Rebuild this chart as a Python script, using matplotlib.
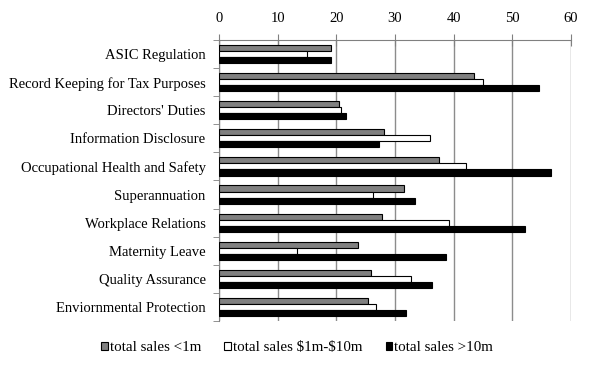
import numpy as np
import matplotlib
matplotlib.use('agg')
import matplotlib.pyplot as plt


CATEGORIES = ['ASIC Regulation', 'Record Keeping for Tax Purposes',
              "Directors' Duties", 'Information Disclosure',
              'Occupational Health and Safety', 'Superannuation',
              'Workplace Relations', 'Maternity Leave', 'Quality Assurance',
              'Enviornmental Protection']

SALES_SMALL = [19.0, 43.5, 20.4, 28.1, 37.6, 31.6, 27.8, 23.6, 25.9, 25.4]
SALES_MID = [15.0, 45.0, 20.8, 35.9, 42.2, 26.3, 39.3, 13.3, 32.8, 26.8]
SALES_LARGE = [19.0, 54.6, 21.7, 27.2, 56.6, 33.4, 52.2, 38.8, 36.4, 31.8]

SERIES_LABELS = ['total sales <1m', r'total sales \$1m-\$10m',
                 'total sales >10m']
TICKS = [0, 10, 20, 30, 40, 50, 60]


def draw():
    plt.rcParams['font.family'] = ['Liberation Serif', 'DejaVu Serif']
    plt.rcParams['font.size'] = 10.5

    fig = plt.figure(figsize=(5.9, 3.65), dpi=100)
    ax = fig.add_axes([0.372, 0.121, 0.595, 0.769])

    n = len(CATEGORIES)
    y = np.arange(n)
    h = 0.215
    colors = ['#808080', 'white', 'black']
    series = [SALES_SMALL, SALES_MID, SALES_LARGE]
    for i, (vals, col, lab) in enumerate(zip(series, colors, SERIES_LABELS)):
        ax.barh(y + (i - 1) * h, vals, height=h, color=col,
                edgecolor='black', linewidth=0.8, label=lab, zorder=3)

    ax.set_xlim(0, 60)
    # the first band is clipped a little at the top, as in the original
    ax.set_ylim(n - 0.5, -0.353)
    ax.set_xticks(TICKS)
    ax.xaxis.tick_top()
    ax.tick_params(axis='x', direction='inout', length=8, color='#808080',
                   pad=7)
    ax.grid(axis='x', color='#8c8c8c', linewidth=1, zorder=0)

    ax.set_yticks(y)
    ax.set_yticklabels(CATEGORIES)
    ax.tick_params(axis='y', which='major', length=0, pad=10)
    ax.set_yticks(np.arange(n + 1) - 0.5, minor=True)
    ax.tick_params(axis='y', which='minor', length=4, color='#808080',
                   direction='out')

    for side in ['right', 'bottom']:
        ax.spines[side].set_visible(False)
    for side in ['top', 'left']:
        ax.spines[side].set_color('#808080')

    fig.legend(loc='center', bbox_to_anchor=(297 / 590, 1 - 347.5 / 365),
               ncol=3, frameon=False, handlelength=0.46, handleheight=0.46,
               handletextpad=0.12, columnspacing=1.55, fontsize=10.8)

    fig.savefig('out.png', dpi=100)


if __name__ == '__main__':
    draw()
